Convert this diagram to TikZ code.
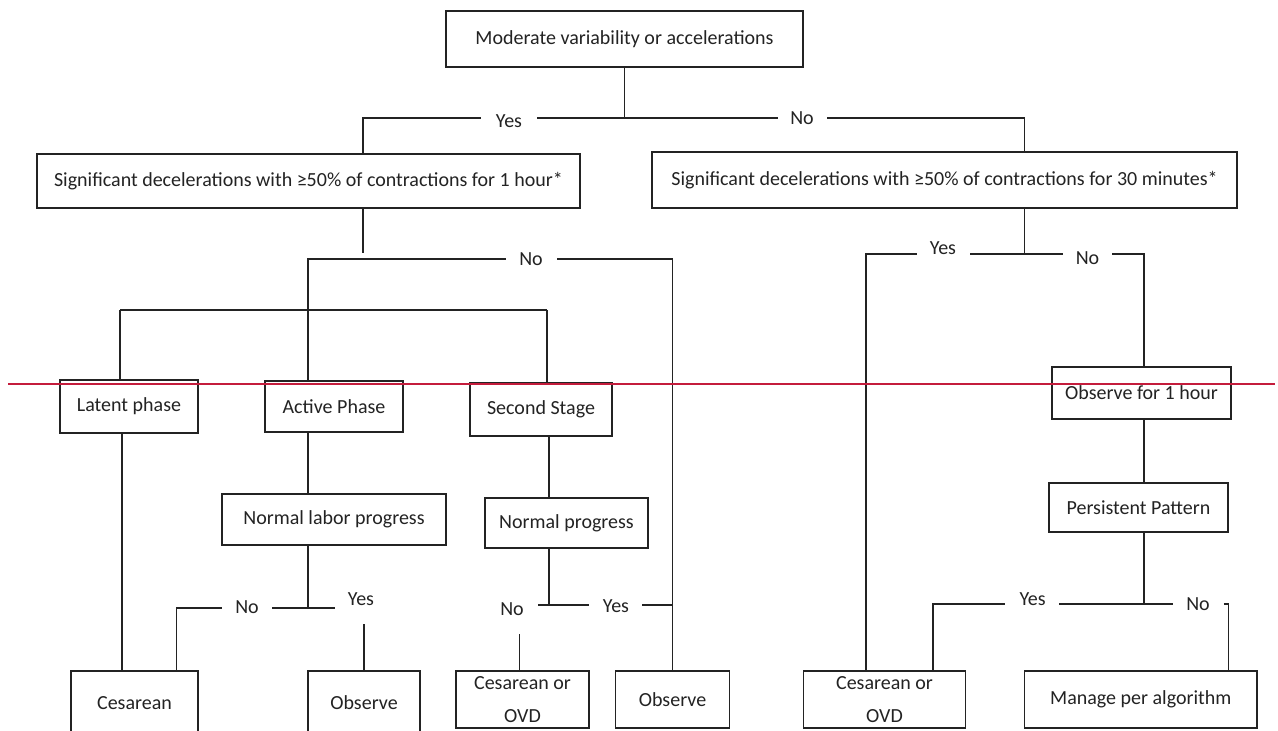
\documentclass[tikz,border=0pt]{standalone}
\usepackage{fontspec}
\setmainfont{Carlito}
\definecolor{ink}{RGB}{35,35,35}
\definecolor{redline}{RGB}{196,28,60}
\begin{document}
\begin{tikzpicture}[x=1pt,y=-1pt,color=ink,line width=1.3pt,
  box/.style={draw=ink,line width=1.3pt,rectangle,inner sep=0pt,align=center,font=\fontsize{20}{24}\selectfont,text=ink},
  lbl/.style={inner sep=0pt,font=\fontsize{20}{24}\selectfont,text=ink},
  twol/.style={box,font=\fontsize{20}{33}\selectfont}]
\useasboundingbox (0,0) rectangle (1278,731);
\fill[white] (0,0) rectangle (1278,731);
\clip (0,0) rectangle (1278,731);
% boxes
\node[box,minimum width=357pt,minimum height=56pt] (top) at (624.5,39) {Moderate variability or accelerations};
\node[box,minimum width=543pt,minimum height=54pt] (s1) at (308.5,181) {Significant decelerations with ≥50\% of contractions for 1 hour*};
\node[box,minimum width=585pt,minimum height=56pt] (s2) at (944.5,180) {Significant decelerations with ≥50\% of contractions for 30 minutes*};
\node[box,minimum width=138pt,minimum height=53pt] (latent) at (129,406.5) {Latent phase};
\node[box,minimum width=138pt,minimum height=51pt] (active) at (334,406.5) {Active Phase};
\node[box,minimum width=142pt,minimum height=53pt] (second) at (541,409.5) {Second Stage};
\node[box,minimum width=224pt,minimum height=51pt] (nlp) at (334,519.5) {Normal labor progress};
\node[box,minimum width=163pt,minimum height=50pt] (np) at (566.5,523) {Normal progress};
\node[box,minimum width=179pt,minimum height=52pt] (obs1h) at (1141.5,393) {Observe for 1 hour};
\node[box,minimum width=179pt,minimum height=49pt] (pers) at (1138.5,507.5) {Persistent Pattern};
\node[box,minimum width=127pt,minimum height=64pt] (ces) at (134.5,703) {Cesarean};
\node[box,minimum width=112pt,minimum height=64pt] (obsL) at (364,703) {Observe};
\node[twol,minimum width=133pt,minimum height=57pt] (cesL) at (522.5,699.5) {Cesarean or\\OVD};
\node[box,minimum width=114pt,minimum height=57pt] (obsM) at (672.5,699.5) {Observe};
\node[twol,minimum width=162pt,minimum height=57pt] (cesR) at (884.5,699.5) {Cesarean or\\OVD};
\node[box,minimum width=232.5pt,minimum height=57pt] (manage) at (1140.75,699.5) {Manage per algorithm};
% top split
\coordinate (yA) at (363,118);
\coordinate (nA) at (1024.5,118);
\draw (top.south) -- (top.south |- yA);
\draw (s1.north -| yA) -- (yA) -- (481,118);
\draw (537,118) -- (778,118);
\draw (827,118) -- (nA) -- (s2.north -| nA);
\node[lbl] (yes1) at (509,121) {Yes};
\node[lbl] (no1) at (802,118) {No};
% left No branch
\coordinate (a0) at (363,253);
\draw (s1.south -| yA) -- (a0);
\coordinate (b1) at (308,259);
\coordinate (b2) at (672.5,259);
\draw (active.north -| b1) -- (b1) -- (506,259);
\draw (557,259) -- (b2) -- (obsM.north -| b2);
\node[lbl] (no2) at (531,259) {No};
% stage bar
\coordinate (c1) at (120,310);
\coordinate (c3) at (547,310);
\draw (c1) -- (c3);
\draw (c1) -- (latent.north -| c1);
\draw (c3) -- (second.north -| c3);
% latent -> cesarean
\coordinate (d1) at (122,500);
\draw (latent.south -| d1) -- (ces.north -| d1);
% active branch
\draw (active.south -| b1) -- (nlp.north -| b1);
\coordinate (e1) at (308,608);
\coordinate (e0) at (176.7,608);
\coordinate (e2) at (364,624);
\draw (nlp.south -| e1) -- (e1);
\draw (272,608) -- (334.7,608);
\draw (ces.north -| e0) -- (e0) -- (222,608);
\draw (e2) -- (obsL.north -| e2);
\node[lbl] (no3) at (247,607) {No};
\node[lbl] (yes3) at (361,599) {Yes};
% second stage branch
\coordinate (f0) at (549,605);
\coordinate (f1) at (519.6,634);
\coordinate (f2) at (672.5,605);
\draw (second.south -| f0) -- (np.north -| f0);
\draw (np.south -| f0) -- (f0);
\draw (538,605) -- (588.6,605);
\draw (642,605) -- (f2);
\draw (f1) -- (cesL.north -| f1);
\node[lbl] (no4) at (512,609) {No};
\node[lbl] (yes4) at (616,606) {Yes};
% right side
\coordinate (g0) at (1024.5,254);
\coordinate (g1) at (866,254);
\coordinate (g2) at (1144,254);
\draw (s2.south -| g0) -- (g0);
\draw (cesR.north -| g1) -- (g1) -- (916.6,254);
\draw (970,254) -- (1063,254);
\draw (1112,254) -- (g2) -- (obs1h.north -| g2);
\node[lbl] (yes5) at (943,248) {Yes};
\node[lbl] (no5) at (1087.5,258) {No};
\draw (obs1h.south -| g2) -- (pers.north -| g2);
\coordinate (h0) at (1144,604);
\coordinate (h1) at (933,604);
\coordinate (h2) at (1228.7,604);
\draw (pers.south -| h0) -- (h0);
\draw (cesR.north -| h1) -- (h1) -- (1005,604);
\draw (1059,604) -- (1173,604);
\draw (1223.8,604) -- (h2) -- (manage.north -| h2);
\node[lbl] (yes6) at (1032.6,599) {Yes};
\node[lbl] (no6) at (1198,604) {No};
% red line
\coordinate (r0) at (8,384);
\coordinate (r1) at (1275,384);
\draw[redline,line width=1.5pt] (r0) -- (r1);
\end{tikzpicture}
\end{document}
